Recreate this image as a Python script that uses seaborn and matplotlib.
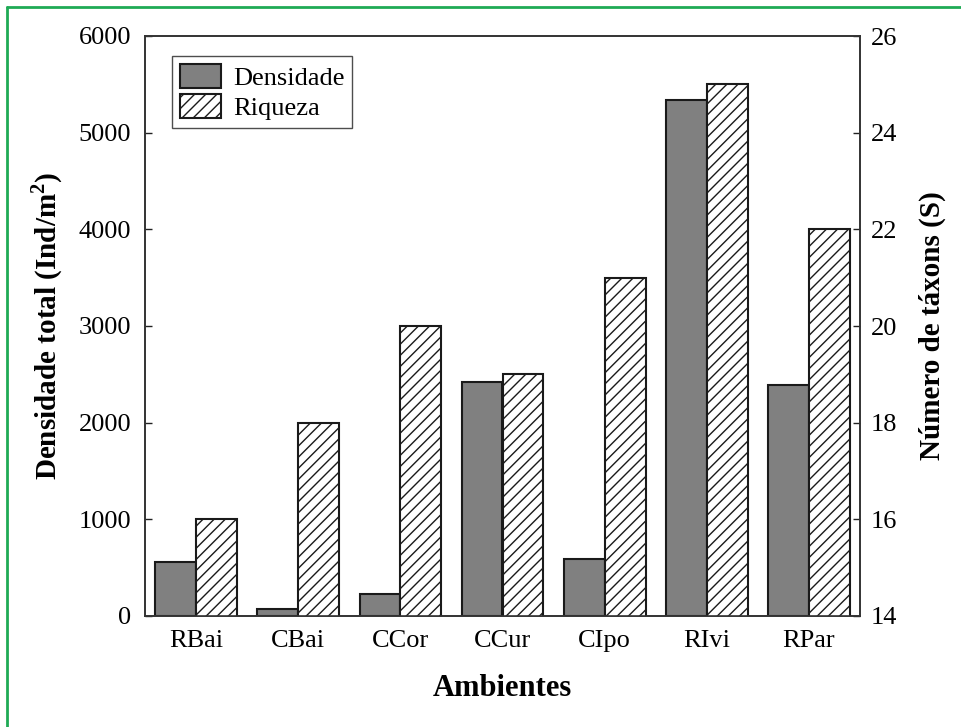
import matplotlib
matplotlib.use("Agg")
import matplotlib.pyplot as plt
from matplotlib.lines import Line2D
from matplotlib.patches import Patch
import seaborn as sns
import pandas as pd

# Data
ambientes = ["RBai", "CBai", "CCor", "CCur", "CIpo", "RIvi", "RPar"]
densidade = [560, 70, 230, 2420, 590, 5340, 2390]
riqueza = [16, 18, 20, 19, 21, 25, 22]
series = ["Densidade", "Riqueza"]
dens_ticks = [0, 1000, 2000, 3000, 4000, 5000, 6000]
riq_ticks = [14, 16, 18, 20, 22, 24, 26]

sns.set_theme(style="white")
plt.rcParams["font.family"] = ["Liberation Serif", "DejaVu Serif"]
plt.rcParams["hatch.color"] = "#202020"
plt.rcParams["hatch.linewidth"] = 1.0
plt.rcParams["text.color"] = "black"
plt.rcParams["axes.labelcolor"] = "black"
plt.rcParams["xtick.color"] = "black"
plt.rcParams["ytick.color"] = "black"
plt.rcParams["mathtext.fontset"] = "custom"
plt.rcParams["mathtext.rm"] = "Liberation Serif"
plt.rcParams["mathtext.bf"] = "Liberation Serif:bold"

df_d = pd.DataFrame({"amb": ambientes, "val": densidade, "serie": "Densidade"})
df_r = pd.DataFrame({"amb": ambientes, "val": riqueza, "serie": "Riqueza"})

fig = plt.figure(figsize=(9.61, 7.27), dpi=100)
ax = fig.add_axes([145 / 961, 1 - 616 / 727, (860 - 145) / 961, (616 - 36) / 727])
ax2 = ax.twinx()

palette = {"Densidade": "#808080", "Riqueza": "white"}
common = dict(x="amb", y="val", hue="serie", hue_order=series, order=ambientes,
              palette=palette, width=0.8, dodge=True, edgecolor="#1a1a1a",
              linewidth=1.5, legend=False, errorbar=None, saturation=1)
sns.barplot(data=df_d, ax=ax, **common)
sns.barplot(data=df_r, ax=ax2, **common)
for p in ax2.patches:
    p.set_hatch("///")

ax.set_xlim(-0.5, 6.5)
ax.set_ylim(0, 6000)
ax.set_yticks(dens_ticks)
ax2.set_ylim(14, 26)
ax2.set_yticks(riq_ticks)

fs = 19
ax.tick_params(axis="y", direction="in", length=5, width=1, labelsize=fs,
               pad=10, colors="#222222", labelcolor="black", left=True)
ax2.tick_params(axis="y", direction="in", length=5, width=1, labelsize=fs,
                pad=8, colors="#222222", labelcolor="black", right=True)
ax.tick_params(axis="x", length=0, labelsize=fs, pad=10, labelcolor="black")

for a in (ax, ax2):
    for s in a.spines.values():
        s.set_color("#333333")
        s.set_linewidth(1.2)

ax.set_xlabel("Ambientes", fontsize=22, fontweight="bold", labelpad=16)
ax.set_ylabel("Densidade total (Ind/m$^\\mathbf{2}$)", fontsize=21,
              fontweight="bold", labelpad=10)
ax2.set_ylabel("Número de táxons (S)", fontsize=21, fontweight="bold",
               labelpad=15)

handles = [Patch(facecolor="#808080", edgecolor="#1a1a1a", linewidth=1.5),
           Patch(facecolor="white", edgecolor="#1a1a1a", linewidth=1.5, hatch="///")]
leg = ax.legend(handles, series, loc="upper left", bbox_to_anchor=(0.038, 0.965),
                fontsize=19, frameon=True, fancybox=False, handlelength=1.55,
                handleheight=1.0, borderpad=0.3, labelspacing=0.15,
                handletextpad=0.45, borderaxespad=0)
leg.get_frame().set_edgecolor("#222222")
leg.get_frame().set_linewidth(1.0)

# green outline along the top and left of the figure
green = "#1faa55"
fig.add_artist(Line2D([7 / 961, 7 / 961], [0, 1 - 7 / 727], color=green, lw=2,
                      transform=fig.transFigure))
fig.add_artist(Line2D([7 / 961, 1], [1 - 7 / 727, 1 - 7 / 727], color=green, lw=2,
                      transform=fig.transFigure))

fig.savefig("out.png", dpi=100)
